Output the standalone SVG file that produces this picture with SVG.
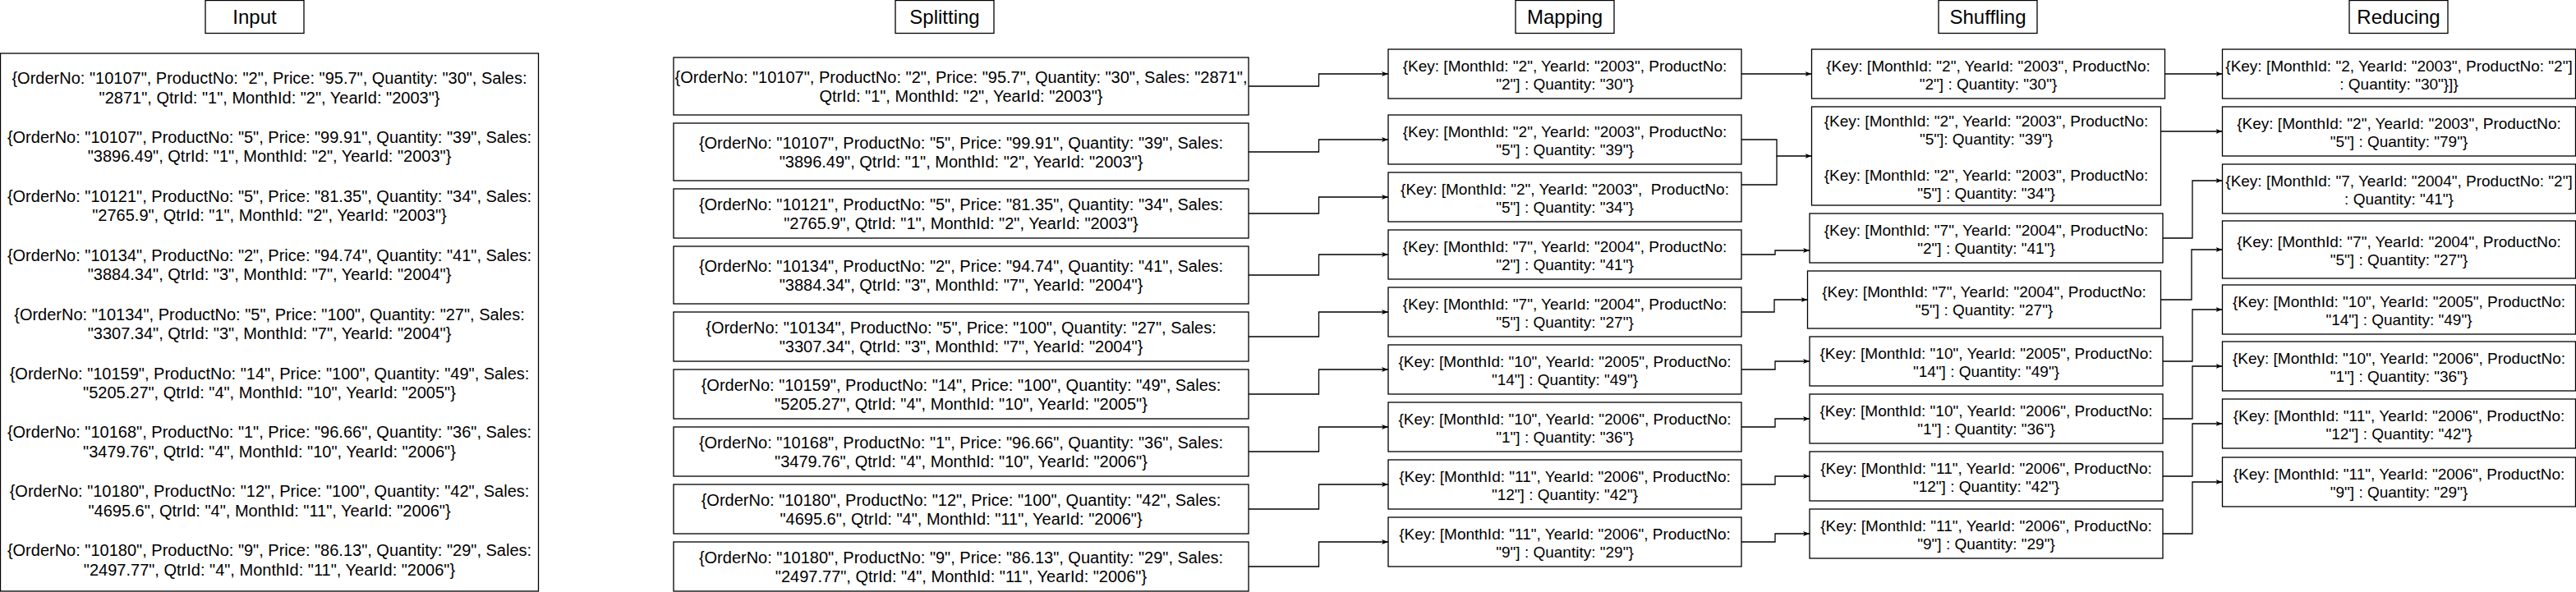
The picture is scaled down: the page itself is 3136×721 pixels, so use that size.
<svg xmlns="http://www.w3.org/2000/svg" width="3136" height="721" viewBox="0 0 3136 721">
<style>
.b{fill:#fff;stroke:#000;stroke-width:1.3}
.t{font-family:"Liberation Sans",Arial,Helvetica,sans-serif;font-size:20px;text-anchor:middle;fill:#000;white-space:pre}
.s{font-size:19px}
.h{font-size:24px}
.c{fill:none;stroke:#000;stroke-width:1.3}
.a{marker-end:url(#arr)}
</style>
<defs>
<marker id="arr" viewBox="0 0 8 6" markerUnits="userSpaceOnUse" markerWidth="8" markerHeight="6" refX="8" refY="3" orient="auto">
<path d="M0,0 L8,3 L0,6 L2,3 Z" fill="#000"/>
</marker>
</defs>
<rect x="0" y="0" width="3136" height="721" fill="#fff"/>

<g id="headers">
<g id="h-input"><rect class="b" x="250" y="0.5" width="120" height="40"/><text class="t h" x="310" y="29">Input</text></g>
<g id="h-splitting"><rect class="b" x="1090" y="0.5" width="120" height="40"/><text class="t h" x="1150" y="29">Splitting</text></g>
<g id="h-mapping"><rect class="b" x="1845" y="0.5" width="120" height="40"/><text class="t h" x="1905" y="29">Mapping</text></g>
<g id="h-shuffling"><rect class="b" x="2360" y="0.5" width="120" height="40"/><text class="t h" x="2420" y="29">Shuffling</text></g>
<g id="h-reducing"><rect class="b" x="2860" y="0.5" width="120" height="40"/><text class="t h" x="2920" y="29">Reducing</text></g>
</g>

<g id="input">
<rect class="b" x="0.5" y="65" width="655" height="655"/>
<text class="t"><tspan x="328" y="102.2">{OrderNo: "10107", ProductNo: "2", Price: "95.7", Quantity: "30", Sales:</tspan><tspan x="328" y="125.5">"2871", QtrId: "1", MonthId: "2", YearId: "2003"}</tspan></text>
<text class="t"><tspan x="328" y="174.1">{OrderNo: "10107", ProductNo: "5", Price: "99.91", Quantity: "39", Sales:</tspan><tspan x="328" y="197.4">"3896.49", QtrId: "1", MonthId: "2", YearId: "2003"}</tspan></text>
<text class="t"><tspan x="328" y="245.9">{OrderNo: "10121", ProductNo: "5", Price: "81.35", Quantity: "34", Sales:</tspan><tspan x="328" y="269.2">"2765.9", QtrId: "1", MonthId: "2", YearId: "2003"}</tspan></text>
<text class="t"><tspan x="328" y="317.8">{OrderNo: "10134", ProductNo: "2", Price: "94.74", Quantity: "41", Sales:</tspan><tspan x="328" y="341.1">"3884.34", QtrId: "3", MonthId: "7", YearId: "2004"}</tspan></text>
<text class="t"><tspan x="328" y="389.7">{OrderNo: "10134", ProductNo: "5", Price: "100", Quantity: "27", Sales:</tspan><tspan x="328" y="413">"3307.34", QtrId: "3", MonthId: "7", YearId: "2004"}</tspan></text>
<text class="t"><tspan x="328" y="461.6">{OrderNo: "10159", ProductNo: "14", Price: "100", Quantity: "49", Sales:</tspan><tspan x="328" y="484.9">"5205.27", QtrId: "4", MonthId: "10", YearId: "2005"}</tspan></text>
<text class="t"><tspan x="328" y="533.4">{OrderNo: "10168", ProductNo: "1", Price: "96.66", Quantity: "36", Sales:</tspan><tspan x="328" y="556.7">"3479.76", QtrId: "4", MonthId: "10", YearId: "2006"}</tspan></text>
<text class="t"><tspan x="328" y="605.3">{OrderNo: "10180", ProductNo: "12", Price: "100", Quantity: "42", Sales:</tspan><tspan x="328" y="628.6">"4695.6", QtrId: "4", MonthId: "11", YearId: "2006"}</tspan></text>
<text class="t"><tspan x="328" y="677.2">{OrderNo: "10180", ProductNo: "9", Price: "86.13", Quantity: "29", Sales:</tspan><tspan x="328" y="700.5">"2497.77", QtrId: "4", MonthId: "11", YearId: "2006"}</tspan></text>
</g>

<g id="split-1"><rect class="b" x="820" y="70" width="700" height="70"/><text class="t"><tspan x="1170" y="100.5">{OrderNo: "10107", ProductNo: "2", Price: "95.7", Quantity: "30", Sales: "2871",</tspan><tspan x="1170" y="123.9">QtrId: "1", MonthId: "2", YearId: "2003"}</tspan></text></g>
<g id="split-2"><rect class="b" x="820" y="150" width="700" height="70"/><text class="t"><tspan x="1170" y="180.5">{OrderNo: "10107", ProductNo: "5", Price: "99.91", Quantity: "39", Sales:</tspan><tspan x="1170" y="203.9">"3896.49", QtrId: "1", MonthId: "2", YearId: "2003"}</tspan></text></g>
<g id="split-3"><rect class="b" x="820" y="230" width="700" height="60"/><text class="t"><tspan x="1170" y="255.5">{OrderNo: "10121", ProductNo: "5", Price: "81.35", Quantity: "34", Sales:</tspan><tspan x="1170" y="278.9">"2765.9", QtrId: "1", MonthId: "2", YearId: "2003"}</tspan></text></g>
<g id="split-4"><rect class="b" x="820" y="300" width="700" height="70"/><text class="t"><tspan x="1170" y="330.5">{OrderNo: "10134", ProductNo: "2", Price: "94.74", Quantity: "41", Sales:</tspan><tspan x="1170" y="353.9">"3884.34", QtrId: "3", MonthId: "7", YearId: "2004"}</tspan></text></g>
<g id="split-5"><rect class="b" x="820" y="380" width="700" height="60"/><text class="t"><tspan x="1170" y="405.5">{OrderNo: "10134", ProductNo: "5", Price: "100", Quantity: "27", Sales:</tspan><tspan x="1170" y="428.9">"3307.34", QtrId: "3", MonthId: "7", YearId: "2004"}</tspan></text></g>
<g id="split-6"><rect class="b" x="820" y="450" width="700" height="60"/><text class="t"><tspan x="1170" y="475.5">{OrderNo: "10159", ProductNo: "14", Price: "100", Quantity: "49", Sales:</tspan><tspan x="1170" y="498.9">"5205.27", QtrId: "4", MonthId: "10", YearId: "2005"}</tspan></text></g>
<g id="split-7"><rect class="b" x="820" y="520" width="700" height="60"/><text class="t"><tspan x="1170" y="545.5">{OrderNo: "10168", ProductNo: "1", Price: "96.66", Quantity: "36", Sales:</tspan><tspan x="1170" y="568.9">"3479.76", QtrId: "4", MonthId: "10", YearId: "2006"}</tspan></text></g>
<g id="split-8"><rect class="b" x="820" y="590" width="700" height="60"/><text class="t"><tspan x="1170" y="615.5">{OrderNo: "10180", ProductNo: "12", Price: "100", Quantity: "42", Sales:</tspan><tspan x="1170" y="638.9">"4695.6", QtrId: "4", MonthId: "11", YearId: "2006"}</tspan></text></g>
<g id="split-9"><rect class="b" x="820" y="660" width="700" height="60"/><text class="t"><tspan x="1170" y="685.5">{OrderNo: "10180", ProductNo: "9", Price: "86.13", Quantity: "29", Sales:</tspan><tspan x="1170" y="708.9">"2497.77", QtrId: "4", MonthId: "11", YearId: "2006"}</tspan></text></g>

<g id="map-1"><rect class="b" x="1690" y="60" width="430" height="60"/><text class="t s"><tspan x="1905" y="86.5">{Key: [MonthId: "2", YearId: "2003", ProductNo:</tspan><tspan x="1905" y="108.5">"2"] : Quantity: "30"}</tspan></text></g>
<g id="map-2"><rect class="b" x="1690" y="140" width="430" height="60"/><text class="t s"><tspan x="1905" y="166.5">{Key: [MonthId: "2", YearId: "2003", ProductNo:</tspan><tspan x="1905" y="188.5">"5"] : Quantity: "39"}</tspan></text></g>
<g id="map-3"><rect class="b" x="1690" y="210" width="430" height="60"/><text class="t s"><tspan x="1905" y="236.5">{Key: [MonthId: "2", YearId: "2003",  ProductNo:</tspan><tspan x="1905" y="258.5">"5"] : Quantity: "34"}</tspan></text></g>
<g id="map-4"><rect class="b" x="1690" y="280" width="430" height="60"/><text class="t s"><tspan x="1905" y="306.5">{Key: [MonthId: "7", YearId: "2004", ProductNo:</tspan><tspan x="1905" y="328.5">"2"] : Quantity: "41"}</tspan></text></g>
<g id="map-5"><rect class="b" x="1690" y="350" width="430" height="60"/><text class="t s"><tspan x="1905" y="376.5">{Key: [MonthId: "7", YearId: "2004", ProductNo:</tspan><tspan x="1905" y="398.5">"5"] : Quantity: "27"}</tspan></text></g>
<g id="map-6"><rect class="b" x="1690" y="420" width="430" height="60"/><text class="t s"><tspan x="1905" y="446.5">{Key: [MonthId: "10", YearId: "2005", ProductNo:</tspan><tspan x="1905" y="468.5">"14"] : Quantity: "49"}</tspan></text></g>
<g id="map-7"><rect class="b" x="1690" y="490" width="430" height="60"/><text class="t s"><tspan x="1905" y="516.5">{Key: [MonthId: "10", YearId: "2006", ProductNo:</tspan><tspan x="1905" y="538.5">"1"] : Quantity: "36"}</tspan></text></g>
<g id="map-8"><rect class="b" x="1690" y="560" width="430" height="60"/><text class="t s"><tspan x="1905" y="586.5">{Key: [MonthId: "11", YearId: "2006", ProductNo:</tspan><tspan x="1905" y="608.5">"12"] : Quantity: "42"}</tspan></text></g>
<g id="map-9"><rect class="b" x="1690" y="630" width="430" height="60"/><text class="t s"><tspan x="1905" y="656.5">{Key: [MonthId: "11", YearId: "2006", ProductNo:</tspan><tspan x="1905" y="678.5">"9"] : Quantity: "29"}</tspan></text></g>

<g id="shuffle-1"><rect class="b" x="2205.5" y="60" width="430" height="60"/><text class="t s"><tspan x="2420.5" y="86.5">{Key: [MonthId: "2", YearId: "2003", ProductNo:</tspan><tspan x="2420.5" y="108.5">"2"] : Quantity: "30"}</tspan></text></g>
<g id="shuffle-2"><rect class="b" x="2205.5" y="130" width="425" height="120"/><text class="t s"><tspan x="2418" y="153.5">{Key: [MonthId: "2", YearId: "2003", ProductNo:</tspan><tspan x="2418" y="175.7">"5"]: Quantity: "39"}</tspan><tspan x="2418" y="220">{Key: [MonthId: "2", YearId: "2003", ProductNo:</tspan><tspan x="2418" y="242.2">"5"] : Quantity: "34"}</tspan></text></g>
<g id="shuffle-3"><rect class="b" x="2203" y="260" width="430" height="60"/><text class="t s"><tspan x="2418" y="286.5">{Key: [MonthId: "7", YearId: "2004", ProductNo:</tspan><tspan x="2418" y="308.5">"2"] : Quantity: "41"}</tspan></text></g>
<g id="shuffle-4"><rect class="b" x="2200.5" y="330" width="430" height="70"/><text class="t s"><tspan x="2415.5" y="361.5">{Key: [MonthId: "7", YearId: "2004", ProductNo:</tspan><tspan x="2415.5" y="383.5">"5"] : Quantity: "27"}</tspan></text></g>
<g id="shuffle-5"><rect class="b" x="2203" y="410" width="430" height="60"/><text class="t s"><tspan x="2418" y="436.5">{Key: [MonthId: "10", YearId: "2005", ProductNo:</tspan><tspan x="2418" y="458.5">"14"] : Quantity: "49"}</tspan></text></g>
<g id="shuffle-6"><rect class="b" x="2203" y="480" width="430" height="60"/><text class="t s"><tspan x="2418" y="506.5">{Key: [MonthId: "10", YearId: "2006", ProductNo:</tspan><tspan x="2418" y="528.5">"1"] : Quantity: "36"}</tspan></text></g>
<g id="shuffle-7"><rect class="b" x="2203" y="550" width="430" height="60"/><text class="t s"><tspan x="2418" y="576.5">{Key: [MonthId: "11", YearId: "2006", ProductNo:</tspan><tspan x="2418" y="598.5">"12"] : Quantity: "42"}</tspan></text></g>
<g id="shuffle-8"><rect class="b" x="2203" y="620" width="430" height="60"/><text class="t s"><tspan x="2418" y="646.5">{Key: [MonthId: "11", YearId: "2006", ProductNo:</tspan><tspan x="2418" y="668.5">"9"] : Quantity: "29"}</tspan></text></g>

<g id="reduce-1"><rect class="b" x="2705.5" y="60" width="430" height="60"/><text class="t s"><tspan x="2920.5" y="86.5">{Key: [MonthId: "2, YearId: "2003", ProductNo: "2"]</tspan><tspan x="2920.5" y="108.5">: Quantity: "30"}]}</tspan></text></g>
<g id="reduce-2"><rect class="b" x="2705.5" y="130" width="430" height="60"/><text class="t s"><tspan x="2920.5" y="156.5">{Key: [MonthId: "2", YearId: "2003", ProductNo:</tspan><tspan x="2920.5" y="178.5">"5"] : Quantity: "79"}</tspan></text></g>
<g id="reduce-3"><rect class="b" x="2705.5" y="200" width="430" height="60"/><text class="t s"><tspan x="2920.5" y="226.5">{Key: [MonthId: "7, YearId: "2004", ProductNo: "2"]</tspan><tspan x="2920.5" y="248.5">: Quantity: "41"}</tspan></text></g>
<g id="reduce-4"><rect class="b" x="2705.5" y="269" width="430" height="70"/><text class="t s"><tspan x="2920.5" y="300.5">{Key: [MonthId: "7", YearId: "2004", ProductNo:</tspan><tspan x="2920.5" y="322.5">"5"] : Quantity: "27"}</tspan></text></g>
<g id="reduce-5"><rect class="b" x="2705.5" y="347" width="430" height="60"/><text class="t s"><tspan x="2920.5" y="373.5">{Key: [MonthId: "10", YearId: "2005", ProductNo:</tspan><tspan x="2920.5" y="395.5">"14"] : Quantity: "49"}</tspan></text></g>
<g id="reduce-6"><rect class="b" x="2705.5" y="416" width="430" height="60"/><text class="t s"><tspan x="2920.5" y="442.5">{Key: [MonthId: "10", YearId: "2006", ProductNo:</tspan><tspan x="2920.5" y="464.5">"1"] : Quantity: "36"}</tspan></text></g>
<g id="reduce-7"><rect class="b" x="2705.5" y="486" width="430" height="60"/><text class="t s"><tspan x="2920.5" y="512.5">{Key: [MonthId: "11", YearId: "2006", ProductNo:</tspan><tspan x="2920.5" y="534.5">"12"] : Quantity: "42"}</tspan></text></g>
<g id="reduce-8"><rect class="b" x="2705.5" y="557" width="430" height="60"/><text class="t s"><tspan x="2920.5" y="583.5">{Key: [MonthId: "11", YearId: "2006", ProductNo:</tspan><tspan x="2920.5" y="605.5">"9"] : Quantity: "29"}</tspan></text></g>

<g id="connectors">
<path class="c a" d="M1520,105 H1605.5 V90 H1690"/>
<path class="c a" d="M1520,185 H1605.5 V170 H1690"/>
<path class="c a" d="M1520,260 H1605.5 V240 H1690"/>
<path class="c a" d="M1520,335 H1605.5 V310 H1690"/>
<path class="c a" d="M1520,410 H1605.5 V380 H1690"/>
<path class="c a" d="M1520,480 H1605.5 V450 H1690"/>
<path class="c a" d="M1520,550 H1605.5 V520 H1690"/>
<path class="c a" d="M1520,620 H1605.5 V590 H1690"/>
<path class="c a" d="M1520,690 H1605.5 V660 H1690"/>

<path class="c a" d="M2120,90 H2205.5"/>
<path class="c a" d="M2120,170 H2163 V190 H2205.5"/>
<path class="c" d="M2120,225 H2163 V190"/>
<path class="c a" d="M2120,310 H2161 V305 H2203"/>
<path class="c a" d="M2120,380 H2160 V365 H2200.5"/>
<path class="c a" d="M2120,450 H2161 V440 H2203"/>
<path class="c a" d="M2120,520 H2161 V510 H2203"/>
<path class="c a" d="M2120,590 H2161 V580 H2203"/>
<path class="c a" d="M2120,660 H2161 V650 H2203"/>

<path class="c a" d="M2635.5,90 H2705.5"/>
<path class="c a" d="M2630.5,160 H2705.5"/>
<path class="c a" d="M2633,290 H2669 V220 H2705.5"/>
<path class="c a" d="M2630.5,365 H2668 V304 H2705.5"/>
<path class="c a" d="M2633,440 H2669 V377 H2705.5"/>
<path class="c a" d="M2633,510 H2669 V446 H2705.5"/>
<path class="c a" d="M2633,580 H2669 V516 H2705.5"/>
<path class="c a" d="M2633,650 H2669 V587 H2705.5"/>
</g>
</svg>
